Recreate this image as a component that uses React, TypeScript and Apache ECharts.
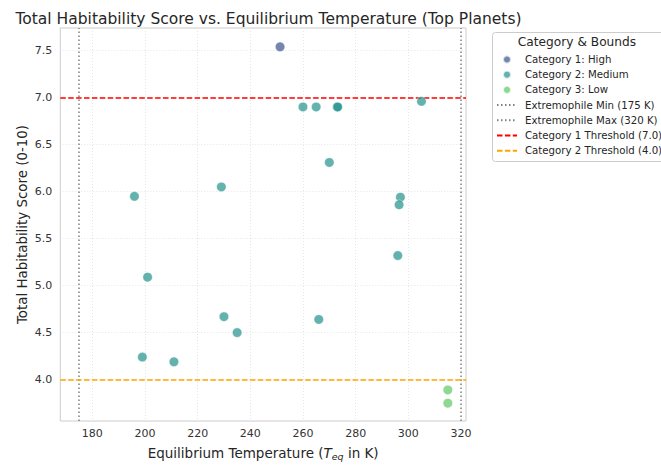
import React, { useEffect, useRef } from "react";
import * as echarts from "echarts";

// ---- data ----
const cat1Temps = [251.3];
const cat1Scores = [7.54];
const cat2Temps = [260, 265, 273, 273.2, 305, 270, 196, 229, 297, 296.5, 296, 201, 230, 235, 266, 199, 211];
const cat2Scores = [6.9, 6.9, 6.9, 6.9, 6.96, 6.31, 5.95, 6.05, 5.94, 5.86, 5.32, 5.09, 4.67, 4.5, 4.64, 4.24, 4.19];
const cat3Temps = [315, 315];
const cat3Scores = [3.89, 3.75];

const xTicks = [180, 200, 220, 240, 260, 280, 300, 320];
const yTicks = [4.0, 4.5, 5.0, 5.5, 6.0, 6.5, 7.0, 7.5];
const xRange = [167.85, 321.9];
const yRange = [3.56, 7.74];

const extremophileMin = 175;
const extremophileMax = 320;
const cat1Threshold = 7.0;
const cat2Threshold = 4.0;

const FONT = "DejaVu Sans";

function pts(xs: number[], ys: number[]) {
  return xs.map((x, i) => [x, ys[i]]);
}

export default function App() {
  const ref = useRef<HTMLDivElement>(null);
  useEffect(() => {
    if (!ref.current) return;
    const chart = echarts.init(ref.current, null, { renderer: "svg" });
    const scatterStyle = (color: string) => ({
      color,
      opacity: 0.7,
      borderColor: "#ffffff",
      borderWidth: 0.6,
    });
    const lineSeries = (name: string, color: string, dash: number[], axis: "x" | "y", value: number) => ({
      name,
      type: "line",
      data: [],
      symbol: "none",
      itemStyle: { color, opacity: 0 },
      lineStyle: { color, width: 1.5, type: dash },
      markLine: {
        silent: true,
        symbol: "none",
        label: { show: false },
        lineStyle: { color, width: 1.5, type: dash, opacity: 1 },
        data: [axis === "x" ? { xAxis: value } : { yAxis: value }],
      },
    });
    const option: any = {
      animation: false,
      textStyle: { fontFamily: FONT },
      title: {
        text: "Total Habitability Score vs. Equilibrium Temperature (Top Planets)",
        left: 263.5,
        textAlign: "center",
        top: 6,
        textStyle: { fontFamily: FONT, fontSize: 15.5, fontWeight: "normal", color: "#262626" },
      },
      grid: {
        left: 60.3,
        right: 195,
        top: 28,
        bottom: 40.5,
        show: true,
        borderColor: "#cccccc",
        borderWidth: 1,
        containLabel: false,
      },
      xAxis: {
        type: "value",
        min: xRange[0],
        max: xRange[1],
        name: "Equilibrium Temperature ({it|T}{sub|eq} in K)",
        nameLocation: "middle",
        nameGap: 23,
        nameMoveOverlap: false,
        nameTextStyle: {
          fontFamily: FONT,
          fontSize: 13.5,
          color: "#262626",
          rich: {
            it: { fontFamily: FONT, fontSize: 13.5, fontStyle: "italic", color: "#262626" },
            sub: { fontFamily: FONT, fontSize: 9.5, fontStyle: "italic", color: "#262626", padding: [7, 0, 0, 0] },
          },
        },
        axisLine: { show: false },
        axisTick: { show: false, customValues: xTicks },
        axisLabel: {
          customValues: xTicks,
          fontFamily: FONT,
          fontSize: 11,
          color: "#333333",
          margin: 7,
        },
        splitLine: { show: true, lineStyle: { color: "#e0e0e0", type: [1, 2], width: 0.8 } },
      },
      yAxis: {
        type: "value",
        min: yRange[0],
        max: yRange[1],
        name: "Total Habitability Score (0-10)",
        nameLocation: "middle",
        nameGap: 31,
        nameMoveOverlap: false,
        nameTextStyle: { fontFamily: FONT, fontSize: 13.4, color: "#262626" },
        axisLine: { show: false },
        axisTick: { show: false, customValues: yTicks },
        axisLabel: {
          customValues: yTicks,
          fontFamily: FONT,
          fontSize: 11,
          color: "#333333",
          margin: 8,
          formatter: (v: number) => v.toFixed(1),
        },
        splitLine: { show: true, lineStyle: { color: "#e0e0e0", type: [1, 2], width: 0.8 } },
      },
      legend: {
        orient: "vertical",
        left: 496,
        top: 53,
        padding: 0,
        itemWidth: 20,
        itemHeight: 8,
        itemGap: 2.2,
        z: 20,
        textStyle: {
          fontFamily: FONT,
          fontSize: 10.2,
          color: "#262626",
          lineHeight: 13,
          padding: [0, 0, 0, 3],
          overflow: "none",
        },
        data: [
          { name: "Category 1: High", icon: "circle" },
          { name: "Category 2: Medium", icon: "circle" },
          { name: "Category 3: Low", icon: "circle" },
          { name: "Extremophile Min (175 K)", itemStyle: { opacity: 0 } },
          { name: "Extremophile Max (320 K)", itemStyle: { opacity: 0 } },
          { name: "Category 1 Threshold (7.0)", itemStyle: { opacity: 0 } },
          { name: "Category 2 Threshold (4.0)", itemStyle: { opacity: 0 } },
        ],
      },
      graphic: [
        {
          type: "rect",
          z: 10,
          shape: { x: 492.5, y: 32.5, width: 175, height: 129, r: 3 },
          style: { fill: "#ffffff", stroke: "#cccccc", lineWidth: 1 },
        },
        {
          type: "text",
          z: 11,
          x: 577,
          y: 42,
          style: {
            text: "Category & Bounds",
            fontFamily: FONT,
            fontSize: 12.2,
            fill: "#262626",
            textAlign: "center",
            textVerticalAlign: "middle",
          },
        },
      ],
      series: [
        {
          name: "Category 1: High",
          type: "scatter",
          symbolSize: 9.5,
          itemStyle: scatterStyle("#3b528b"),
          data: pts(cat1Temps, cat1Scores),
          z: 5,
        },
        {
          name: "Category 2: Medium",
          type: "scatter",
          symbolSize: 9.5,
          itemStyle: scatterStyle("#21918c"),
          data: pts(cat2Temps, cat2Scores),
          z: 5,
        },
        {
          name: "Category 3: Low",
          type: "scatter",
          symbolSize: 9.5,
          itemStyle: scatterStyle("#5ec962"),
          data: pts(cat3Temps, cat3Scores),
          z: 5,
        },
        lineSeries("Extremophile Min (175 K)", "#808080", [1.5, 2.5], "x", extremophileMin),
        lineSeries("Extremophile Max (320 K)", "#808080", [1.5, 2.5], "x", extremophileMax),
        lineSeries("Category 1 Threshold (7.0)", "#ff0000", [5.5, 2.4], "y", cat1Threshold),
        lineSeries("Category 2 Threshold (4.0)", "#ffa500", [5.5, 2.4], "y", cat2Threshold),
      ],
    };
    chart.setOption(option);
    return () => chart.dispose();
  }, []);
  return (
    <div
      ref={ref}
      style={{ position: "fixed", left: 0, top: 0, width: 661, height: 466, background: "#ffffff" }}
    />
  );
}
